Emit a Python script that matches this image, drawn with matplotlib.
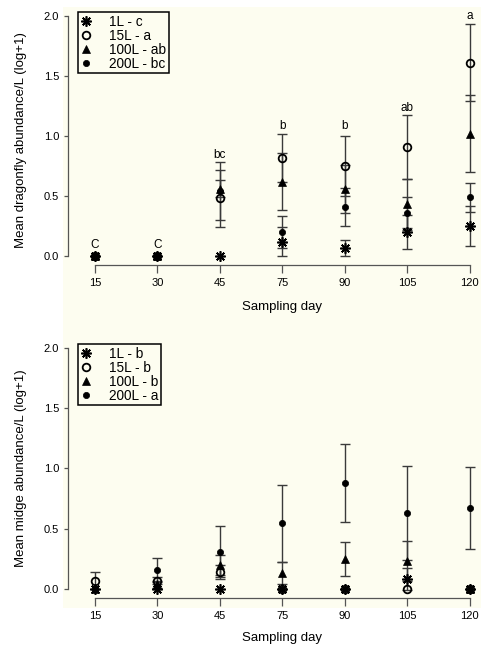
import matplotlib
matplotlib.use("Agg")
import matplotlib.pyplot as plt
from matplotlib.lines import Line2D
from matplotlib.patches import Rectangle

plt.rcParams['font.family'] = ['Liberation Sans', 'DejaVu Sans']

days = ["15", "30", "45", "75", "90", "105", "120"]
groups = ["1L", "15L", "100L", "200L"]

# dragonfly: means and standard errors per group
drag_1L = [0, 0, 0, 0.12, 0.065, 0.20, 0.25]
drag_1L_se = [0, 0, 0, 0.12, 0.065, 0.145, 0.17]
drag_15L = [0, 0, 0.48, 0.82, 0.75, 0.91, 1.61]
drag_15L_se = [0, 0, 0.24, 0.20, 0.25, 0.265, 0.32]
drag_100L = [0, 0, 0.56, 0.62, 0.56, 0.43, 1.02]
drag_100L_se = [0, 0, 0.07, 0.24, 0.20, 0.21, 0.32]
drag_200L = [0, 0, 0.54, 0.20, 0.41, 0.36, 0.49]
drag_200L_se = [0, 0, 0.24, 0.13, 0.16, 0.13, 0.12]
drag_letters = ["C", "C", "bc", "b", "b", "ab", "a"]
drag_letter_y = [0.09, 0.09, 0.84, 1.08, 1.08, 1.23, 2.0]
drag_legend = ["1L - c", "15L - a", "100L - ab", "200L - bc"]

# midge
midge_1L = [0, 0, 0, 0, 0, 0.085, 0]
midge_1L_se = [0, 0, 0, 0, 0, 0.09, 0]
midge_15L = [0.07, 0.07, 0.14, 0, 0, 0, 0]
midge_15L_se = [0.07, 0.03, 0.06, 0, 0, 0, 0]
midge_100L = [0, 0.04, 0.20, 0.13, 0.25, 0.235, 0]
midge_100L_se = [0, 0.03, 0.08, 0.09, 0.14, 0.165, 0]
midge_200L = [0, 0.155, 0.31, 0.545, 0.88, 0.63, 0.67]
midge_200L_se = [0, 0.10, 0.21, 0.32, 0.32, 0.39, 0.34]
midge_legend = ["1L - b", "15L - b", "100L - b", "200L - a"]

cream = "#fdfdf0"
ebar_col = "#3a3a3a"
styles = {
    "1L": dict(marker=(8, 2, 0), ms=7.5, mfc="black", mec="black", mew=1.2),
    "15L": dict(marker="o", ms=5.5, mfc="none", mec="black", mew=1.3),
    "100L": dict(marker="^", ms=5.5, mfc="black", mec="black", mew=0.5),
    "200L": dict(marker="o", ms=4.5, mfc="black", mec="black", mew=0.5),
}

fig = plt.figure(figsize=(4.83, 6.45), dpi=100)
fig.patches.append(Rectangle((63 / 483, 1 - 608 / 645), 418 / 483, 601 / 645,
                             transform=fig.transFigure, facecolor=cream,
                             edgecolor="none", zorder=-10))


def panel(ax, series, ses, legend_labels, ylabel, xlabel_y, ylabel_y, letters=None, letter_y=None):
    ax.set_facecolor("none")
    x = list(range(len(days)))
    for g, m, s in zip(groups, series, ses):
        lo = [mi - si for mi, si in zip(m, s)]
        hi = [mi + si for mi, si in zip(m, s)]
        for xi, l, h, si in zip(x, lo, hi, s):
            if si > 0:
                ax.vlines(xi, l, h, color=ebar_col, lw=1.0, zorder=2)
                ax.hlines([l, h], xi - 0.08, xi + 0.08, color=ebar_col, lw=1.0, zorder=2)
    for g in ["200L", "100L", "15L", "1L"]:
        m = series[groups.index(g)]
        ax.plot(x, m, linestyle="none", zorder=3, **styles[g])
    if letters:
        for xi, t, ty in zip(x, letters, letter_y):
            ax.text(xi, ty, t, ha="center", va="center", fontsize=8.5)
    ax.set_xlim(-0.432, 6.13)
    ax.set_ylim(-0.075, 2.05)
    ax.set_xticks(x)
    ax.set_xticklabels(days)
    ax.set_yticks([0, 0.5, 1.0, 1.5, 2.0])
    ax.set_yticklabels(["0.0", "0.5", "1.0", "1.5", "2.0"])
    for sp in ["top", "right"]:
        ax.spines[sp].set_visible(False)
    ax.spines["left"].set_bounds(0, 2)
    ax.spines["bottom"].set_bounds(0, 6)
    for sp in ["left", "bottom"]:
        ax.spines[sp].set_color("#555555")
        ax.spines[sp].set_linewidth(0.9)
    ax.tick_params(axis="x", length=6, width=0.9, color="#555555", labelsize=8, pad=3.5)
    ax.tick_params(axis="y", length=3, width=0.9, color="#555555", labelsize=8, pad=3.5)
    ax.set_xlabel("Sampling day", fontsize=9.5)
    ax.xaxis.set_label_coords(0.522, xlabel_y)
    ax.set_ylabel(ylabel, fontsize=9.5)
    ax.yaxis.set_label_coords(-0.10, ylabel_y)
    handles = [Line2D([], [], linestyle="none", **styles[g]) for g in groups]
    leg = ax.legend(handles, legend_labels, loc="upper left", bbox_to_anchor=(0.024, 0.992),
                    borderaxespad=0, fancybox=False, edgecolor="black", facecolor=cream,
                    framealpha=1, fontsize=9.8, handlelength=0.8, handletextpad=1.3,
                    labelspacing=0.0, borderpad=0.2)
    leg.get_frame().set_linewidth(1.1)


ax1 = fig.add_axes([68 / 483, 1 - 265 / 645, 410 / 483, 255 / 645])
panel(ax1, [drag_1L, drag_15L, drag_100L, drag_200L],
      [drag_1L_se, drag_15L_se, drag_100L_se, drag_200L_se],
      drag_legend, "Mean dragonfly abundance/L (log+1)", -0.14, 0.49,
      drag_letters, drag_letter_y)

ax2 = fig.add_axes([68 / 483, 1 - 598 / 645, 410 / 483, 256 / 645])
panel(ax2, [midge_1L, midge_15L, midge_100L, midge_200L],
      [midge_1L_se, midge_15L_se, midge_100L_se, midge_200L_se],
      midge_legend, "Mean midge abundance/L (log+1)", -0.133, 0.508)

fig.savefig("out.png", dpi=100)
